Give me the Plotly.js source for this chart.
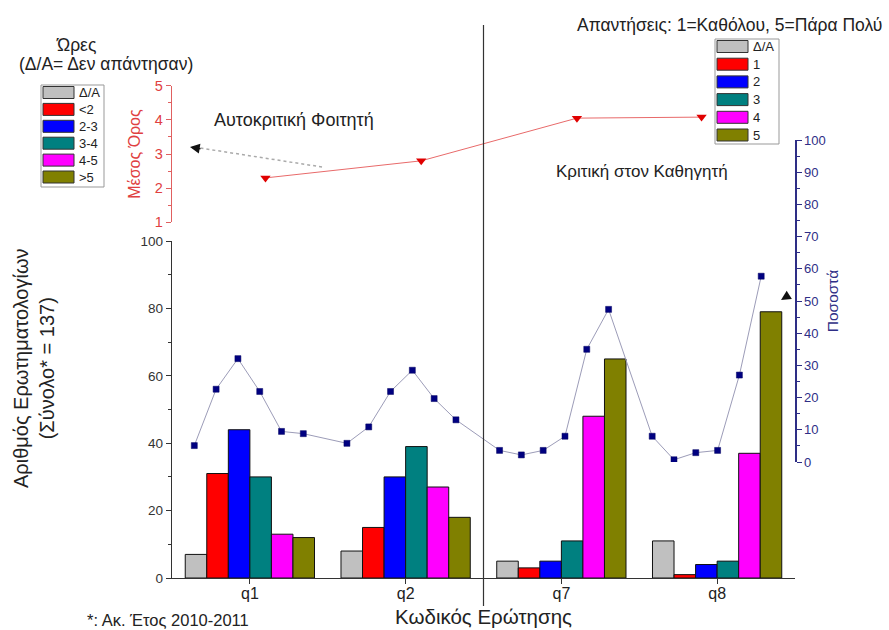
<!DOCTYPE html>
<html>
<head>
<meta charset="utf-8">
<script src="https://cdn.plot.ly/plotly-3.0.1.min.js"></script>
<style>html,body{margin:0;padding:0;background:#fff;}#chart{width:889px;height:630px;}</style>
</head>
<body>
<div id="chart"></div>
<script>
// ---- data ----
const categories = ['q1', 'q2', 'q7', 'q8'];
const hourLabels = ['Δ/Α', '<2', '2-3', '3-4', '4-5', '>5'];
const answerLabels = ['Δ/Α', '1', '2', '3', '4', '5'];
const countNA = [7, 8, 5, 11];
const count1 = [31, 15, 3, 1];
const count2 = [44, 30, 5, 4];
const count3 = [30, 39, 11, 5];
const count4 = [13, 27, 48, 37];
const count5 = [12, 18, 65, 79];
const pctQ1 = [5.1, 22.6, 32.1, 21.9, 9.5, 8.8];
const pctQ2 = [5.8, 10.9, 21.9, 28.5, 19.7, 13.1];
const pctQ7 = [3.6, 2.2, 3.6, 8.0, 35.0, 47.4];
const pctQ8 = [8.0, 0.7, 2.9, 3.6, 27.0, 57.7];
const meanScore = [2.3, 2.8, 4.05, 4.08];
const meanPos = [0.1, 1.1, 2.1, 2.9];   // position of each mean marker along the question axis

// ---- styling ----
const barColors = ['#c0c0c0', '#ff0000', '#0000ff', '#008080', '#ff00ff', '#808000'];
const countSeries = [countNA, count1, count2, count3, count4, count5];
const navy = '#2e2e86';
const FONT = 'Liberation Sans, Arial, sans-serif';

const traces = [];
countSeries.forEach((vals, i) => {
  traces.push({
    type: 'bar', x: categories, y: vals, name: hourLabels[i],
    marker: {color: barColors[i], line: {color: '#111', width: 1}},
    xaxis: 'x', yaxis: 'y', hoverinfo: 'y'
  });
});
// percentage line
const pctGroups = [pctQ1, pctQ2, pctQ7, pctQ8];
const pctX = [], pctY = [];
pctGroups.forEach((g, gi) => g.forEach((v, j) => { pctX.push(gi * 7 + j); pctY.push(v); }));
traces.push({
  type: 'scatter', mode: 'lines+markers', x: pctX, y: pctY, name: 'Ποσοστά',
  line: {color: '#9c9cb8', width: 1},
  marker: {symbol: 'square', size: 6, color: '#000080', line: {color: '#000060', width: 0.5}},
  xaxis: 'x2', yaxis: 'y2'
});
// mean score line
traces.push({
  type: 'scatter', mode: 'lines+markers', x: meanPos, y: meanScore, name: 'Μέσος Όρος',
  line: {color: '#e86a6a', width: 1},
  marker: {symbol: 'triangle-down', size: 9, color: '#e00000'},
  xaxis: 'x3', yaxis: 'y3'
});

const L = 172, R = 795, T = 80, B = 578;
const px = v => (v - L) / (R - L);
const py = v => (B - v) / (B - T);

const shapes = [
  {type: 'line', xref: 'x', yref: 'paper', x0: 1.5, x1: 1.5, y0: py(606), y1: py(25),
   line: {color: '#333', width: 1.2}},
  {type: 'line', xref: 'paper', yref: 'paper', x0: px(322), y0: py(167), x1: px(200), y1: py(148),
   line: {color: '#aaa', width: 1.5, dash: 'dot'}},
  // legend boxes
  {type: 'rect', xref: 'paper', yref: 'paper', x0: px(41), x1: px(104), y0: py(187), y1: py(85),
   fillcolor: '#fff', line: {color: '#999', width: 1}},
  {type: 'rect', xref: 'paper', yref: 'paper', x0: px(715), x1: px(779), y0: py(144), y1: py(39),
   fillcolor: '#fff', line: {color: '#999', width: 1}}
];
function note(x, y, text, size, extra) {
  return Object.assign({xref: 'paper', yref: 'paper', x: px(x), y: py(y), text: text, showarrow: false,
    xanchor: 'center', yanchor: 'middle', font: {size: size, color: '#222'}}, extra || {});
}
const annotations = [
  note(76, 45, 'Ώρες', 17.5),
  note(106, 64, '(Δ/Α= Δεν απάντησαν)', 17.5),
  note(729, 25, 'Απαντήσεις: 1=Καθόλου, 5=Πάρα Πολύ', 17.5),
  note(294, 120, 'Αυτοκριτική Φοιτητή', 18),
  note(642, 171, 'Κριτική στον Καθηγητή', 17),
  note(85, 620, '*: Ακ. Έτος 2010-2011', 16.5, {xanchor: 'left'}),
  note(34, 368, 'Αριθμός Ερωτηματολογίων<br>(Σύνολο* = 137)', 20, {textangle: -90}),
  {xref: 'paper', yref: 'paper', x: px(190), y: py(147), text: '', showarrow: true, ax: 12, ay: 2,
   arrowhead: 2, arrowsize: 1.3, arrowwidth: 1.5, arrowcolor: '#111'},
  {xref: 'paper', yref: 'paper', x: px(781), y: py(300), text: '', showarrow: true, ax: 8, ay: -5,
   arrowhead: 2, arrowsize: 1.3, arrowwidth: 1.5, arrowcolor: '#111'}
];
// hand-drawn legends (wide swatches like the original)
function addLegend(labels, x0, yc0, step) {
  labels.forEach((lab, i) => {
    const c = yc0 + i * step;
    shapes.push({type: 'rect', xref: 'paper', yref: 'paper', x0: px(x0), x1: px(x0 + 31),
      y0: py(c + 6), y1: py(c - 6), fillcolor: barColors[i], line: {color: '#333', width: 1}});
    annotations.push(note(x0 + 34, c, lab, 13, {xanchor: 'left'}));
  });
}
addLegend(hourLabels, 43, 92.5, 16.9);
addLegend(answerLabels, 717, 46.5, 17.7);

const layout = {
  width: 889, height: 630,
  margin: {l: L, r: 889 - R, t: T, b: 630 - B, pad: 0},
  paper_bgcolor: '#fff', plot_bgcolor: 'rgba(0,0,0,0)',
  font: {family: FONT, color: '#222'},
  barmode: 'group', bargap: 0.17, bargroupgap: 0,
  showlegend: false,
  xaxis: {
    type: 'category', range: [-0.5, 3.5], domain: [0, 1], anchor: 'y',
    showline: true, linecolor: '#333', linewidth: 1.2, mirror: false,
    ticks: 'outside', ticklen: 5, tickcolor: '#333', showgrid: false, zeroline: false,
    tickfont: {size: 16, color: '#222'}, ticklabelstandoff: -4,
    title: {text: 'Κωδικός Ερώτησης', font: {size: 20.5, color: '#222'}, standoff: 8}
  },
  yaxis: {
    range: [0, 100], domain: [0, py(241)], anchor: 'x',
    showline: true, linecolor: '#333', linewidth: 1.2,
    ticks: 'outside', ticklen: 5, tickcolor: '#333', dtick: 20,
    minor: {dtick: 10, ticks: 'outside', ticklen: 3, tickcolor: '#333'},
    showgrid: false, zeroline: false,
    tickfont: {size: 13.5, color: '#333'}
  },
  xaxis2: {range: [-1.023, 27.55], domain: [0, 1], anchor: 'y2', visible: false, fixedrange: true},
  yaxis2: {
    range: [0, 100], domain: [py(462), py(140)], anchor: 'x2', side: 'right',
    showline: true, linecolor: navy, linewidth: 1.5,
    ticks: 'outside', ticklen: 5, tickcolor: navy, dtick: 10,
    minor: {dtick: 5, ticks: 'outside', ticklen: 3, tickcolor: navy},
    showgrid: false, zeroline: false,
    tickfont: {size: 13, color: navy},
    title: {text: 'Ποσοστά', font: {size: 15.5, color: navy}, standoff: 2}
  },
  xaxis3: {range: [-0.5, 3.5], domain: [0, 1], anchor: 'y3', visible: false},
  yaxis3: {
    range: [1, 5], domain: [py(222.3), py(85.7)], anchor: 'x3', side: 'left',
    showline: true, linecolor: '#e06060', linewidth: 1.2,
    ticks: 'outside', ticklen: 5, tickcolor: '#e06060', dtick: 1,
    minor: {dtick: 0.5, ticks: 'outside', ticklen: 3, tickcolor: '#e06060'},
    showgrid: false, zeroline: false,
    tickfont: {size: 14.5, color: '#e04040'},
    title: {text: 'Μέσος Όρος', font: {size: 16, color: '#e04040'}, standoff: 10}
  },
  shapes: shapes,
  annotations: annotations
};

Plotly.newPlot('chart', traces, layout, {displayModeBar: false, staticPlot: true});
</script>
</body>
</html>
